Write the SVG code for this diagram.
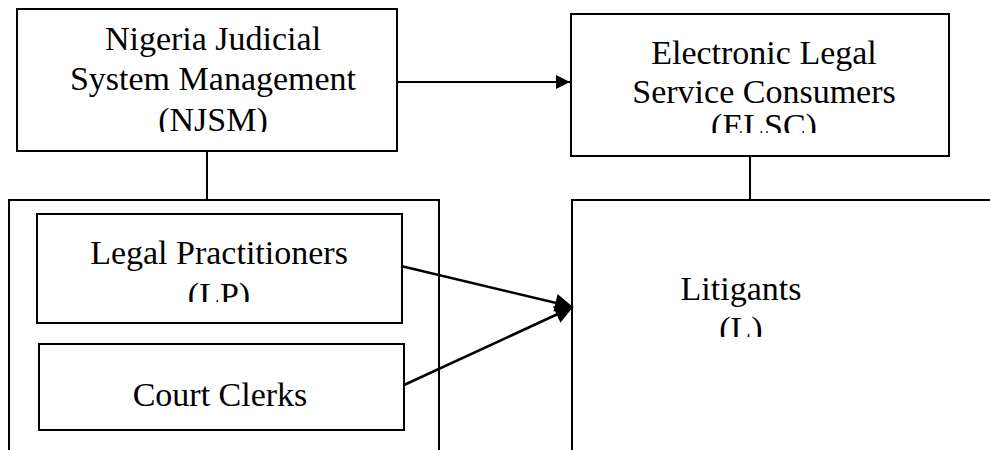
<svg xmlns="http://www.w3.org/2000/svg" width="990" height="450" viewBox="0 0 990 450">
  <style>
    .box { fill: #ffffff; stroke: #000000; stroke-width: 2; }
    .link { fill: none; stroke: #000000; stroke-width: 2; }
    .arrow { fill: none; stroke: #000000; stroke-width: 2.5; }
    .label { font-family: 'Tinos', 'Times New Roman', 'Liberation Serif', 'DejaVu Serif', serif; font-size: 34px; fill: #000000; text-anchor: middle; }
  </style>
  <defs>
    <marker id="head" viewBox="0 0 10 10" refX="10" refY="5" markerWidth="15" markerHeight="14" markerUnits="userSpaceOnUse" orient="auto">
      <path d="M0,0 L10,5 L0,10 Z" fill="#000000"/>
    </marker>
    <marker id="head2" viewBox="0 0 10 10" refX="10" refY="5" markerWidth="20" markerHeight="18" markerUnits="userSpaceOnUse" orient="auto">
      <path d="M0,0 L10,5 L0,10 Z" fill="#000000"/>
    </marker>
    <!-- text frames crop the last line of each label -->
    <clipPath id="clip-njsm"><rect x="17" y="9" width="380" height="123"/></clipPath>
    <clipPath id="clip-elsc"><rect x="571" y="14" width="378" height="119"/></clipPath>
    <clipPath id="clip-lp"><rect x="37" y="214" width="365" height="88"/></clipPath>
    <clipPath id="clip-l"><rect x="572" y="200" width="418" height="137"/></clipPath>
  </defs>

  <rect width="990" height="450" fill="#ffffff"/>

  <!-- enclosing frame for court staff -->
  <g id="group-staff">
    <rect class="box" x="9" y="200" width="430" height="270"/>
  </g>

  <g id="njsm">
    <rect class="box" x="17" y="9" width="380" height="142"/>
    <g clip-path="url(#clip-njsm)">
      <text class="label" x="213" y="50">Nigeria Judicial</text>
      <text class="label" x="213" y="90">System Management</text>
      <text class="label" x="213" y="131">(NJSM)</text>
    </g>
  </g>

  <g id="elsc">
    <rect class="box" x="571" y="14" width="378" height="142"/>
    <g clip-path="url(#clip-elsc)">
      <text class="label" x="764" y="64">Electronic Legal</text>
      <text class="label" x="764" y="103">Service Consumers</text>
      <text class="label" x="764" y="137">(ELSC)</text>
    </g>
  </g>

  <g id="lp">
    <rect class="box" x="37" y="214" width="365" height="109"/>
    <g clip-path="url(#clip-lp)">
      <text class="label" x="219" y="264">Legal Practitioners</text>
      <text class="label" x="219" y="306">(LP)</text>
    </g>
  </g>

  <g id="cc">
    <rect class="box" x="39" y="344" width="365" height="86"/>
    <text class="label" x="220" y="406">Court Clerks</text>
  </g>

  <g id="litigants">
    <rect class="box" x="572" y="200" width="440" height="270"/>
    <g clip-path="url(#clip-l)">
      <text class="label" x="741" y="300">Litigants</text>
      <text class="label" x="741" y="340">(L)</text>
    </g>
  </g>

  <g id="connectors">
    <line class="link" x1="207" y1="151" x2="207" y2="200"/>
    <line class="link" x1="750" y1="156" x2="750" y2="200"/>
    <line class="link" x1="397" y1="82" x2="570" y2="82" marker-end="url(#head)"/>
    <line class="arrow" x1="401" y1="266" x2="573" y2="307" marker-end="url(#head2)"/>
    <line class="arrow" x1="404" y1="385" x2="573" y2="307" marker-end="url(#head2)"/>
  </g>
</svg>
